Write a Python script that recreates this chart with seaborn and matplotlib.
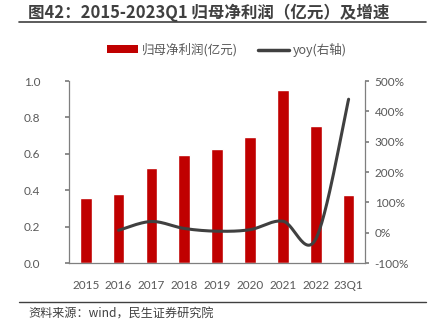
import numpy as np
import pandas as pd
import matplotlib
matplotlib.use("Agg")
import matplotlib.pyplot as plt
import seaborn as sns
from matplotlib.patches import Patch
from matplotlib.lines import Line2D

categories = ["2015", "2016", "2017", "2018", "2019", "2020", "2021", "2022", "23Q1"]
profit = [0.355, 0.38, 0.52, 0.595, 0.625, 0.69, 0.95, 0.755, 0.375]
yoy_cats = ["2016", "2017", "2018", "2019", "2020", "2021", "2022", "23Q1"]
yoy = [8, 37, 14, 5, 10, 38, -21, 440]

sns.set_theme(style="white")
plt.rcParams['font.family'] = ['Noto Sans CJK SC', 'DejaVu Sans']

fig = plt.figure(figsize=(4.32, 3.28), dpi=100)
ax = fig.add_axes([0.1604, 0.198, 0.6846, 0.555])

df = pd.DataFrame({"cat": categories, "val": profit})
sns.barplot(data=df, x="cat", y="val", ax=ax, color="#C00000", width=0.355,
            saturation=1, order=categories)
ax.set_xlim(-0.5, 8.5)
ax.set_ylim(0, 1.0)
ax.set_yticks(np.arange(0, 1.01, 0.2))
ax.set_yticklabels([f"{v:.1f}" for v in np.arange(0, 1.01, 0.2)])
ax.set_xlabel("")
ax.set_ylabel("")

gray = "#595959"
for s in ["top", "right"]:
    ax.spines[s].set_visible(False)
for s in ["left", "bottom"]:
    ax.spines[s].set_color("#7f7f7f")
    ax.spines[s].set_linewidth(0.9)
ax.tick_params(axis="y", which="both", left=True, length=3, color="#7f7f7f",
               labelsize=8.5, labelcolor=gray, pad=18)
ax.tick_params(axis="x", bottom=False, labelsize=8.5, labelcolor=gray, pad=6)

ax2 = ax.twinx()
ax2.set_ylim(-100, 500)
ax2.set_yticks(np.arange(-100, 501, 100))
ax2.set_yticklabels([f"{int(v)}%" for v in np.arange(-100, 501, 100)])
for s in ["top", "left", "bottom"]:
    ax2.spines[s].set_visible(False)
ax2.spines["right"].set_color("#7f7f7f")
ax2.spines["right"].set_linewidth(0.9)
ax2.tick_params(axis="y", right=True, length=3, color="#7f7f7f",
                labelsize=8.5, labelcolor=gray, pad=4)
for lbl in ax.get_xticklabels() + ax.get_yticklabels() + ax2.get_yticklabels():
    lbl.set_fontfamily(["Lato", "DejaVu Sans"])

# smoothed line (Catmull-Rom rendering of the data points)
xs = np.array([categories.index(c) for c in yoy_cats], dtype=float)
ys = np.array(yoy, dtype=float)
px = np.concatenate([[xs[0]], xs, [xs[-1]]])
py = np.concatenate([[ys[0]], ys, [ys[-1]]])
sx, sy = [], []
t = np.linspace(0, 1, 30)
for i in range(1, len(px) - 2):
    p0, p1, p2, p3 = [np.array([px[j], py[j]]) for j in (i - 1, i, i + 1, i + 2)]
    c1 = p1 + (p2 - p0) / 6
    c2 = p2 - (p3 - p1) / 6
    pts = ((1 - t) ** 3)[:, None] * p1 + (3 * (1 - t) ** 2 * t)[:, None] * c1 + \
          (3 * (1 - t) * t ** 2)[:, None] * c2 + (t ** 3)[:, None] * p2
    sx.extend(pts[:, 0]); sy.extend(pts[:, 1])
sns.lineplot(x=sx, y=sy, ax=ax2, color="#404040", linewidth=2.2, sort=False,
             estimator=None)

ax.set_xlim(-0.5, 8.5)

# legend
handles = [Patch(facecolor="#C00000", edgecolor="none"),
           Line2D([0], [0], color="#404040", lw=2.5)]
fig.legend(handles, ["归母净利润(亿元)", "yoy(右轴)"], loc="center",
           bbox_to_anchor=(0.525, 0.848), ncol=2, frameon=False, fontsize=9,
           handlelength=2.5, handleheight=0.6, columnspacing=1.6,
           handletextpad=0.3, labelcolor=gray)

# title
fig.text(0.065, 0.962, "图42：2015-2023Q1 归母净利润（亿元）及增速", fontsize=11.9,
         fontweight="bold", color="#404040", va="center", ha="left")
fig.add_artist(Line2D([0.044, 0.985], [0.932, 0.932], color="#404040", lw=1.2,
                      transform=fig.transFigure))
fig.add_artist(Line2D([0.044, 0.985], [0.079, 0.079], color="#404040", lw=1.0,
                      transform=fig.transFigure))
fig.text(0.065, 0.041, "资料来源：wind，民生证券研究院", fontsize=8.7, color="#404040",
         va="center", ha="left")

fig.savefig("out.png", dpi=100)
